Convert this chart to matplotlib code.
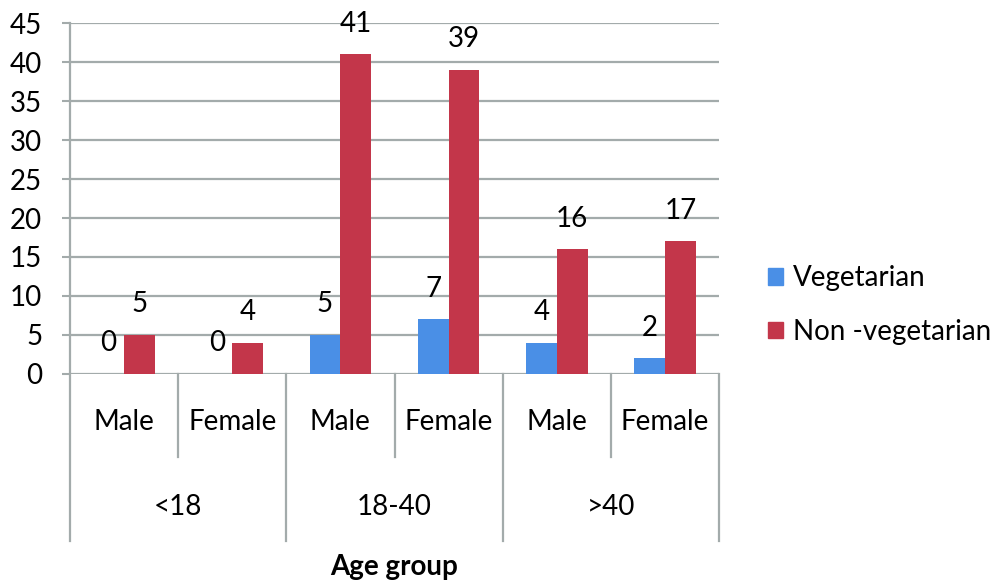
import numpy as np
import matplotlib.pyplot as plt
from matplotlib.patches import Patch
from matplotlib.transforms import blended_transform_factory

# ---- data ----
sex_labels = ['Male', 'Female', 'Male', 'Female', 'Male', 'Female']
age_groups = ['<18', '18-40', '>40']
vegetarian = [0, 0, 5, 7, 4, 2]
non_vegetarian = [5, 4, 41, 39, 16, 17]

blue = '#4a8fe6'
red = '#c3364a'
grid_col = '#a3abab'
fs = 20

plt.rcParams['font.family'] = ['Lato', 'DejaVu Sans']

fig = plt.figure(figsize=(10, 5.84), dpi=100)
ax = fig.add_axes([0.07, 0.3596, 0.649, 0.601])

x = np.arange(len(sex_labels))
w = 0.285
b1 = ax.bar(x - w / 2, vegetarian, w, color=blue, zorder=3)
b2 = ax.bar(x + w / 2, non_vegetarian, w, color=red, zorder=3)

# value labels above each bar
for bars, vals in ((b1, vegetarian), (b2, non_vegetarian)):
    for rect, v in zip(bars, vals):
        ax.annotate(str(v), (rect.get_x() + rect.get_width() / 2, v),
                    xytext=(0, 22), textcoords='offset points',
                    ha='center', va='center', fontsize=fs)

ax.set_xlim(-0.5, len(x) - 0.5)
ax.set_ylim(0, 45)
ax.set_yticks(np.arange(0, 46, 5))
ax.tick_params(axis='y', labelsize=fs, length=6, width=1.5, color=grid_col, pad=14)
ax.set_xticks([])
ax.yaxis.grid(True, color=grid_col, linewidth=1.6, zorder=0)
for s in ['top', 'right', 'bottom', 'left']:
    ax.spines[s].set_visible(False)

# multi-level category axis drawn below the plot
trans = blended_transform_factory(ax.transData, fig.transFigure)
y0 = 1 - 374 / 584
y_sub = 1 - 457 / 584
y_grp = 1 - 541 / 584
y_top = 1 - 23 / 584
for i in range(len(x) + 1):
    xe = i - 0.5
    y_end = y_grp if i % 2 == 0 else y_sub
    y_start = y_top if i == 0 else y0
    ax.plot([xe, xe], [y_start, y_end], transform=trans, color=grid_col,
            linewidth=1.6, clip_on=False, zorder=1)

for i, lab in enumerate(sex_labels):
    ax.text(i, 1 - 422 / 584, lab, transform=trans, ha='center', va='center',
            fontsize=fs)
for j, lab in enumerate(age_groups):
    ax.text(2 * j + 0.5, 1 - 507 / 584, lab, transform=trans, ha='center',
            va='center', fontsize=fs)
ax.text(2.5, 1 - 567 / 584, 'Age group', transform=trans, ha='center',
        va='center', fontsize=fs, fontweight='bold')

handles = [Patch(color=blue, label='Vegetarian'),
           Patch(color=red, label='Non -vegetarian')]
fig.legend(handles=handles, loc='center left', bbox_to_anchor=(0.768, 1 - 305 / 584),
           frameon=False, fontsize=fs, handlelength=0.55, handleheight=0.55,
           handletextpad=0.36, labelspacing=1.0, borderpad=0, borderaxespad=0)

fig.savefig('out.png', dpi=100)
